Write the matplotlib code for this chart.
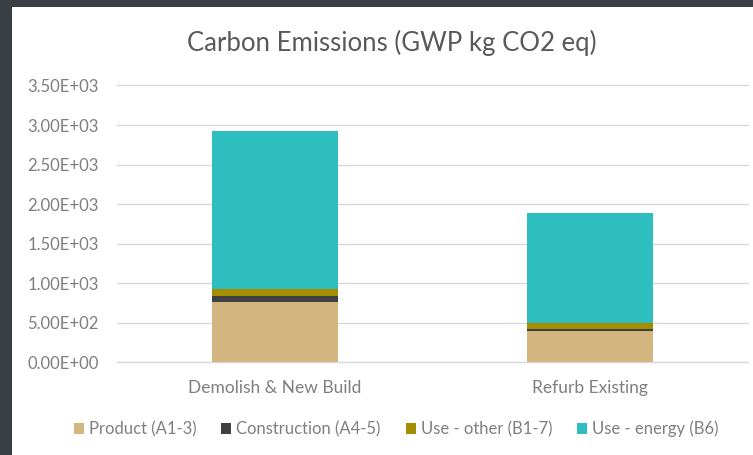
import matplotlib

matplotlib.use("Agg")
import matplotlib.pyplot as plt
import numpy as np
from matplotlib.patches import Patch, Rectangle

# values (kg CO2 eq)
scenarios = ["Demolish & New Build", "Refurb Existing"]
stages = ["Product (A1-3)", "Construction (A4-5)", "Use - other (B1-7)", "Use - energy (B6)"]
product = [760, 395]
construction = [77, 30]
use_other = [88, 68]
use_energy = [2000, 1398]
yticks = [0, 500, 1000, 1500, 2000, 2500, 3000, 3500]

colors = ["#D3B67F", "#404040", "#A48E00", "#2EBEBF"]
text_color = "#7F7F7F"
plt.rcParams["font.family"] = ["Lato", "DejaVu Sans"]

fig = plt.figure(figsize=(7.53, 4.55), dpi=100)
fig.patch.set_facecolor("#3A3E45")
# white chart area inside the dark screenshot border
fig.patches.append(Rectangle((12 / 753, 0), 1, 1 - 7 / 455, transform=fig.transFigure,
                             facecolor="white", edgecolor="none", zorder=-5))

ax = fig.add_axes([117 / 753, 1 - 362.3 / 455, 631 / 753, (362.3 - 85.5) / 455])
ax.set_facecolor("none")

x = np.arange(len(scenarios))
bottom = np.zeros(len(scenarios))
for series, color, label in zip([product, construction, use_other, use_energy], colors, stages):
    ax.bar(x, series, width=0.4, bottom=bottom, color=color, label=label, zorder=3)
    bottom += np.array(series)

ax.set_xlim(-0.5, 1.5)
ax.set_ylim(0, 3500)
ax.set_yticks(yticks)
ax.set_yticklabels([f"{v:.2E}" for v in yticks])
ax.set_xticks(x)
ax.set_xticklabels(scenarios)
ax.yaxis.grid(True, color="#D9D9D9", linewidth=1, zorder=0)
for line in ax.get_ygridlines():
    line.set_clip_on(False)
ax.tick_params(axis="y", length=0, pad=13, labelsize=12, labelcolor=text_color)
ax.tick_params(axis="x", length=0, pad=13, labelsize=12.5, labelcolor=text_color)
for side in ["top", "right", "left"]:
    ax.spines[side].set_visible(False)
ax.spines["bottom"].set_color("#D9D9D9")

fig.text(392 / 753, 1 - 43 / 455, "Carbon Emissions (GWP kg CO2 eq)", ha="center", va="center",
         fontsize=18.5, color="#595959")

handles = [Patch(facecolor=c, edgecolor="none") for c in colors]
fig.legend(handles, stages, loc="center", bbox_to_anchor=(396 / 753, 1 - 429 / 455), ncol=4,
           frameon=False, fontsize=12, labelcolor=text_color, handlelength=0.6, handleheight=0.6,
           handletextpad=0.3, columnspacing=1.5)

fig.savefig("out.png", dpi=100, facecolor=fig.get_facecolor())
